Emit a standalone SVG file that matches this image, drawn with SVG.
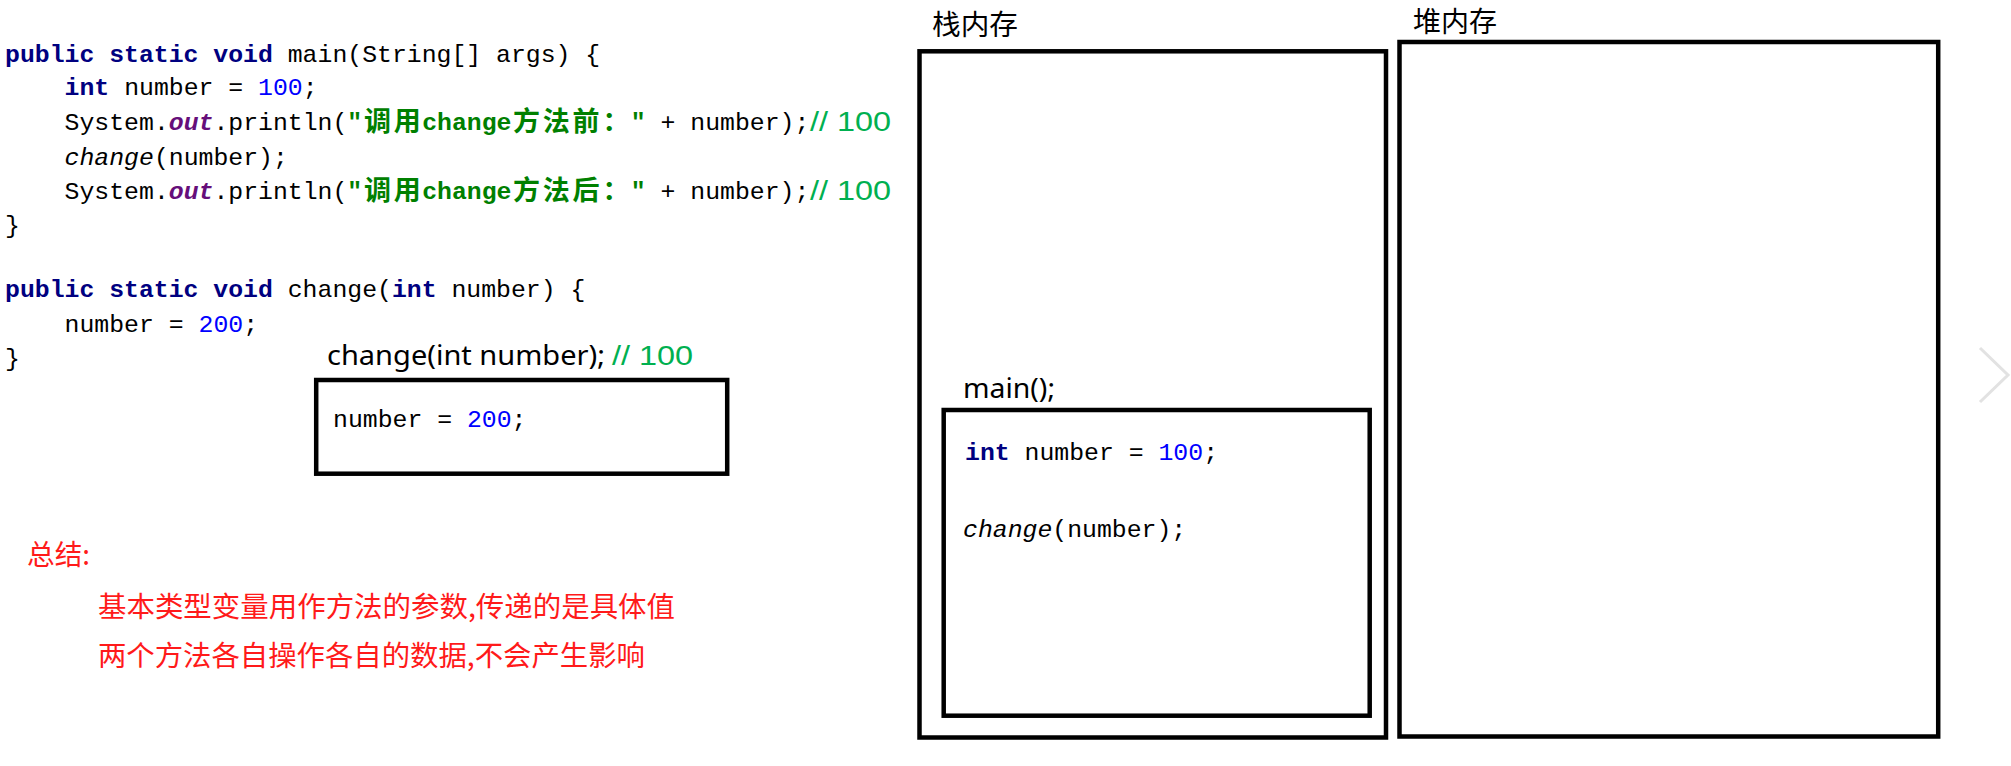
<svg xmlns="http://www.w3.org/2000/svg" width="2011" height="766" viewBox="0 0 2011 766">
<style>
.code{font-family:"Liberation Mono","DejaVu Sans Mono",monospace;font-size:24.8px;fill:#000}
.kw{fill:#000080;font-weight:bold}
.num{fill:#0000FF}
.str{fill:#008000;font-weight:bold}
.fld{fill:#660E7A;font-weight:bold;font-style:italic}
.it{font-style:italic}
.cjk{font-family:"Noto Sans CJK SC","Liberation Mono",sans-serif;font-size:27px;font-weight:bold;fill:#008000}
.cmt{font-family:"Liberation Sans","Noto Sans",sans-serif;font-size:27px;fill:#00B050}
.lbl{font-family:"Noto Sans","Liberation Sans",sans-serif;font-size:27px;fill:#000}
.zh{font-family:"Noto Sans CJK SC",sans-serif;font-size:28px;fill:#000}
.red{font-family:"Noto Sans CJK SC",sans-serif;font-size:28px;fill:#FF1A1A}
.box{fill:none;stroke:#000;stroke-width:4.5}
</style>
<rect width="2011" height="766" fill="#fff"/>

<g id="code">
  <text class="code" x="5" y="62"><tspan class="kw">public static void</tspan> main(String[] args) {</text>
  <text class="code" x="64.6" y="95"><tspan class="kw">int</tspan> number = <tspan class="num">100</tspan>;</text>
  <text class="code" x="64.6" y="130">System.<tspan class="fld">out</tspan>.println(<tspan class="str">"</tspan></text>
  <text class="cjk" x="364 393.8" y="131">调用</text>
  <text class="code" x="422.2" y="130"><tspan class="str">change</tspan></text>
  <text class="cjk" x="513 542.8 572.6 602.4" y="131">方法前：</text>
  <text class="code" x="630.8" y="130"><tspan class="str">"</tspan> + number);</text>
  <text class="cmt" x="810" y="131" textLength="81" lengthAdjust="spacingAndGlyphs">// 100</text>
  <text class="code" x="64.6" y="165"><tspan class="it">change</tspan>(number);</text>
  <text class="code" x="64.6" y="199">System.<tspan class="fld">out</tspan>.println(<tspan class="str">"</tspan></text>
  <text class="cjk" x="364 393.8" y="200">调用</text>
  <text class="code" x="422.2" y="199"><tspan class="str">change</tspan></text>
  <text class="cjk" x="513 542.8 572.6 602.4" y="200">方法后：</text>
  <text class="code" x="630.8" y="199"><tspan class="str">"</tspan> + number);</text>
  <text class="cmt" x="810" y="200" textLength="81" lengthAdjust="spacingAndGlyphs">// 100</text>
  <text class="code" x="5" y="233">}</text>
  <text class="code" x="5" y="297"><tspan class="kw">public static void</tspan> change(<tspan class="kw">int</tspan> number) {</text>
  <text class="code" x="64.6" y="332">number = <tspan class="num">200</tspan>;</text>
  <text class="code" x="5" y="366">}</text>
</g>

<g id="change-frame">
  <text class="lbl" x="327" y="365" textLength="278" lengthAdjust="spacingAndGlyphs">change(int number);</text>
  <text class="cmt" x="612" y="365" textLength="81" lengthAdjust="spacingAndGlyphs">// 100</text>
  <rect class="box" x="316.2" y="380" width="411" height="93.7"/>
  <text class="code" x="333" y="427">number = <tspan class="num">200</tspan>;</text>
</g>

<g id="summary">
  <text class="red" x="27" y="565" font-size="25" textLength="63" lengthAdjust="spacingAndGlyphs">总结:</text>
  <text class="red" x="98" y="617" textLength="577" lengthAdjust="spacingAndGlyphs">基本类型变量用作方法的参数,传递的是具体值</text>
  <text class="red" x="98" y="666" textLength="547" lengthAdjust="spacingAndGlyphs">两个方法各自操作各自的数据,不会产生影响</text>
</g>

<g id="stack">
  <text class="zh" x="932" y="35" textLength="86" lengthAdjust="spacingAndGlyphs">栈内存</text>
  <rect class="box" x="919.5" y="51.3" width="466.5" height="686.2"/>
</g>

<g id="main-frame">
  <text class="lbl" x="963" y="398" textLength="92" lengthAdjust="spacingAndGlyphs">main();</text>
  <rect class="box" x="943.7" y="410" width="426" height="305.7"/>
  <text class="code" x="965" y="460"><tspan class="kw">int</tspan> number = <tspan class="num">100</tspan>;</text>
  <text class="code" x="963" y="537"><tspan class="it">change</tspan>(number);</text>
</g>

<g id="heap">
  <text class="zh" x="1413" y="31.5" textLength="84" lengthAdjust="spacingAndGlyphs">堆内存</text>
  <rect class="box" x="1399.5" y="42" width="538.7" height="694.5"/>
</g>

<g id="nav">
  <polyline points="1980,348 2008,375 1980,402" fill="none" stroke="#e2e2e2" stroke-width="3"/>
</g>

<g id="connectors"></g>
</svg>
